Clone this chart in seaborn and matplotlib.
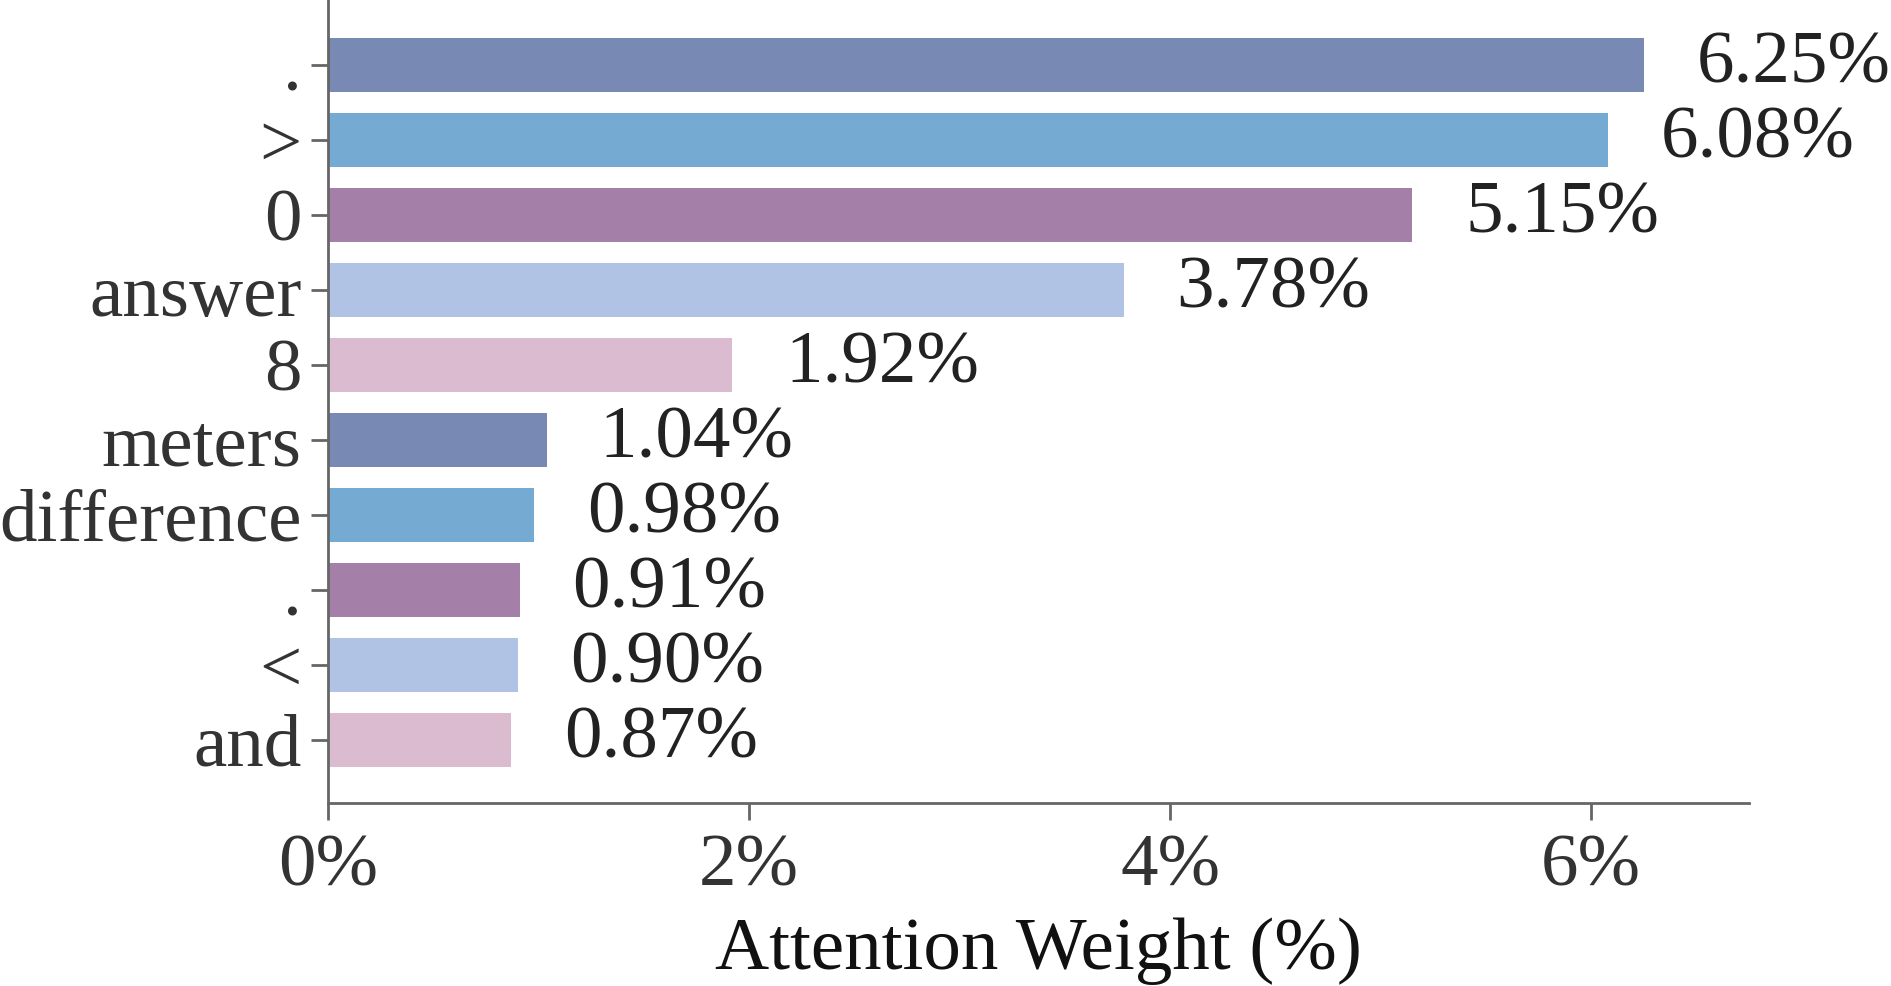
import matplotlib
matplotlib.use("Agg")
import matplotlib.pyplot as plt
import seaborn as sns
import pandas as pd

# Data (top to bottom)
tokens = [".", ">", "0", "answer", "8", "meters", "difference", ".", "<", "and"]
weights = [6.25, 6.08, 5.15, 3.78, 1.92, 1.04, 0.98, 0.91, 0.90, 0.87]
bar_colors = ["#7889B3", "#75AAD2", "#A47FA8", "#B0C3E4", "#DABBD0"] * 2
xticks = [0, 2, 4, 6]
xtick_labels = ["0%", "2%", "4%", "6%"]

sns.set_theme(style="ticks")
plt.rcParams["font.family"] = ["Liberation Serif", "DejaVu Serif"]

df = pd.DataFrame({"pos": range(len(tokens)), "weight": weights})

fig = plt.figure(figsize=(18.91, 9.86), dpi=100)
ax = fig.add_axes([0.1735, 0.1856, 0.7515, 0.8144])

sns.barplot(data=df, x="weight", y="pos", hue="pos", orient="h",
            palette=bar_colors, saturation=1, width=0.72, legend=False,
            ax=ax, linewidth=0)

# Value labels
for i, v in enumerate(weights):
    ax.text(v + 0.25, i, f"{v:.2f}%", va="center", ha="left",
            fontsize=54, color="#222222")

ax.set_yticks(range(len(tokens)))
ax.set_yticklabels(tokens)
ax.set_xticks(xticks)
ax.set_xticklabels(xtick_labels)
ax.set_xlim(0, 6.75)
ax.set_ylim(9.84, -0.87)

ax.set_ylabel("")
ax.set_xlabel("Attention Weight (%)", fontsize=54, color="#111111", labelpad=12)
ax.tick_params(axis="both", labelsize=54, colors="#666666", labelcolor="#333333",
               length=12, width=2)
ax.tick_params(axis="y", pad=7)
ax.tick_params(axis="x", pad=10)

sns.despine(ax=ax)
for side in ["left", "bottom"]:
    ax.spines[side].set_color("#666666")
    ax.spines[side].set_linewidth(2)

fig.savefig("out.png", dpi=100)
